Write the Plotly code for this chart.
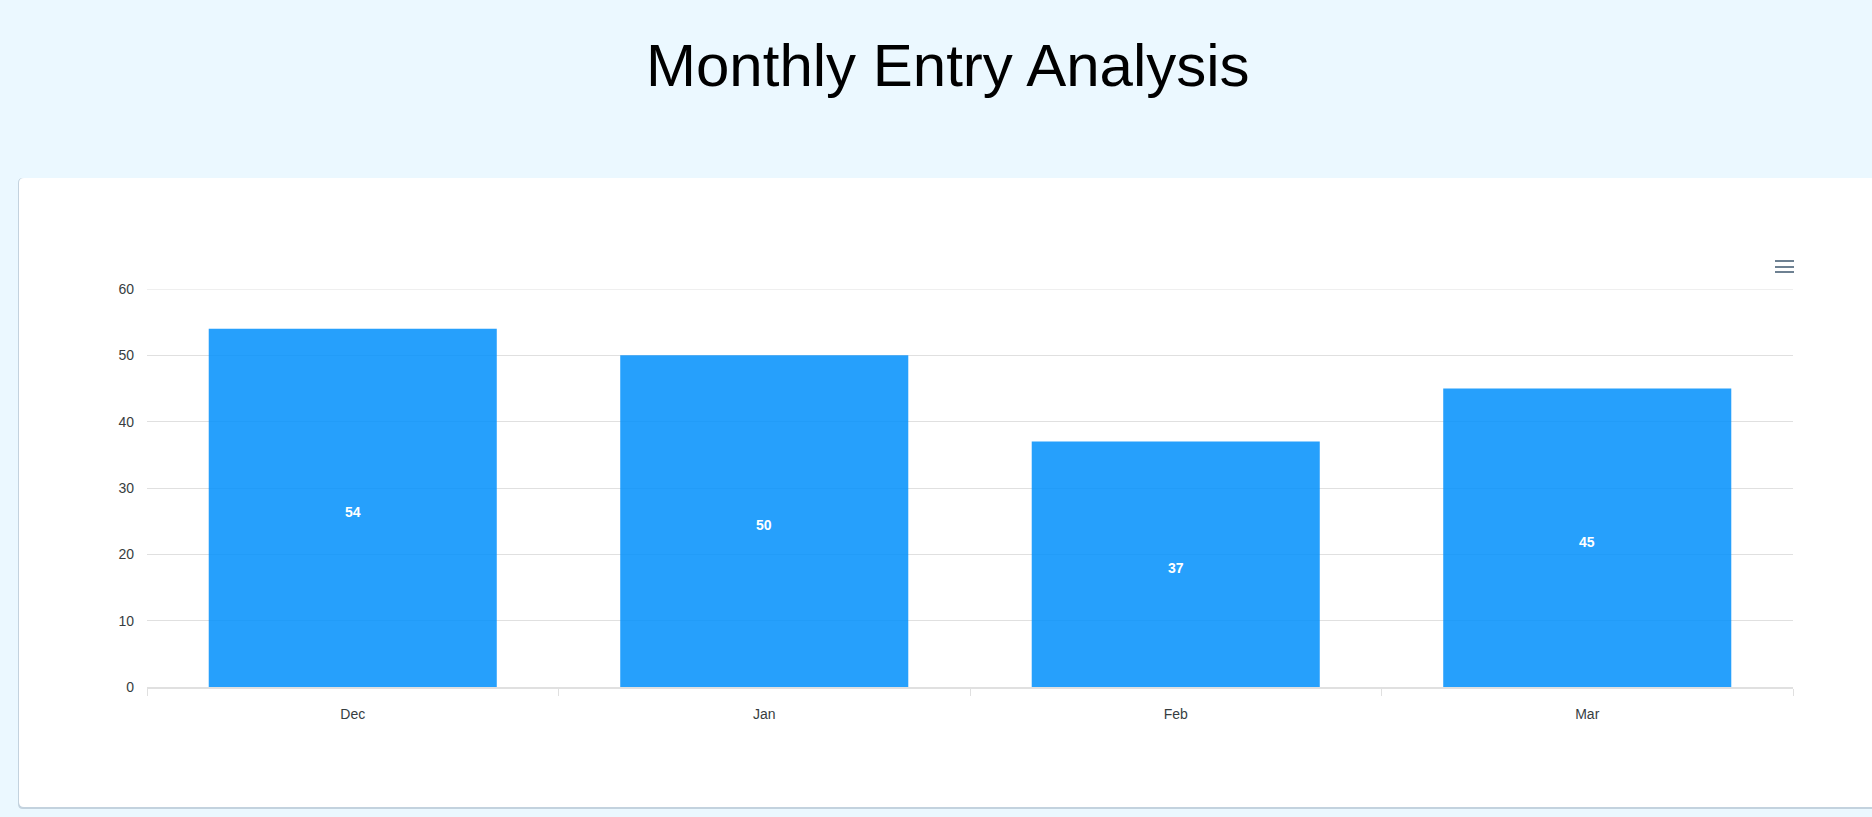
import plotly.graph_objects as go

categories = ["Dec", "Jan", "Feb", "Mar"]
entries = [54, 50, 37, 45]
y_ticks = [0, 10, 20, 30, 40, 50, 60]
title_text = "Monthly Entry Analysis"

W, H = 1872, 817
L, R, T, B = 147, 79, 289, 130
PW, PH = W - L - R, H - T - B
FONT = "Liberation Sans, Arial, Helvetica"


def px(x):
    return (x - L) / PW


def py(y):
    return (H - B - y) / PH


def rounded_rect(x0, y0, x1, y1, r):
    pts = [
        f"M {px(x0 + r)},{py(y0)}",
        f"L {px(x1 - r)},{py(y0)}",
        f"Q {px(x1)},{py(y0)} {px(x1)},{py(y0 + r)}",
        f"L {px(x1)},{py(y1 - r)}",
        f"Q {px(x1)},{py(y1)} {px(x1 - r)},{py(y1)}",
        f"L {px(x0 + r)},{py(y1)}",
        f"Q {px(x0)},{py(y1)} {px(x0)},{py(y1 - r)}",
        f"L {px(x0)},{py(y0 + r)}",
        f"Q {px(x0)},{py(y0)} {px(x0 + r)},{py(y0)}",
        "Z",
    ]
    return " ".join(pts)


fig = go.Figure(
    go.Bar(
        x=categories,
        y=entries,
        marker=dict(color="rgba(0,143,251,0.85)", line=dict(width=0)),
        hoverinfo="x+y",
    )
)

shapes = [
    dict(type="path", xref="paper", yref="paper", layer="below",
         path=rounded_rect(18, 178, 1885, 809, 5),
         fillcolor="rgba(120,140,160,0.35)", line=dict(width=0)),
    dict(type="path", xref="paper", yref="paper", layer="below",
         path=rounded_rect(19, 178, 1885, 807, 5),
         fillcolor="white", line=dict(width=0)),
    # top gridline (at the edge of the range plotly omits it)
    dict(type="line", xref="paper", yref="y", layer="below",
         x0=0, x1=1, y0=y_ticks[-1], y1=y_ticks[-1],
         line=dict(color="#e0e0e0", width=1)),
]
for yy in (261, 267, 272):
    shapes.append(dict(type="line", xref="paper", yref="paper",
                       x0=px(1775), x1=px(1794), y0=py(yy), y1=py(yy),
                       line=dict(color="#6E8192", width=2)))

annotations = [
    dict(text=title_text, xref="paper", yref="paper", x=px(948), y=py(66),
         xanchor="center", yanchor="middle", showarrow=False,
         font=dict(family=FONT, size=60, color="black")),
]
for c, v in zip(categories, entries):
    annotations.append(dict(
        x=c, y=v / 2, xref="x", yref="y", text=str(v), showarrow=False,
        xanchor="center", yanchor="middle", yshift=-4,
        font=dict(family=FONT, size=14, color="white", weight="bold"),
    ))

fig.update_layout(
    width=W, height=H,
    margin=dict(l=L, r=R, t=T, b=B, pad=0),
    paper_bgcolor="#EBF8FF",
    plot_bgcolor="rgba(0,0,0,0)",
    bargap=0.3,
    showlegend=False,
    shapes=shapes,
    annotations=annotations,
    font=dict(family=FONT, size=14, color="#373d3f"),
    xaxis=dict(
        type="category",
        showgrid=False,
        showline=True, linecolor="#e0e0e0", linewidth=2,
        ticks="outside", tickson="boundaries", ticklen=7, tickcolor="#e0e0e0", tickwidth=1,
        ticklabelstandoff=13,
        tickfont=dict(family=FONT, size=14, color="#373d3f"),
        fixedrange=True,
    ),
    yaxis=dict(
        range=[0, 60],
        tickvals=y_ticks,
        showgrid=True, gridcolor="#e0e0e0", gridwidth=1,
        zeroline=False, showline=False,
        ticks="", ticklabelstandoff=12,
        tickfont=dict(family=FONT, size=14, color="#373d3f"),
        fixedrange=True,
    ),
)

fig.write_html(
    "out.html",
    config={"displayModeBar": False},
    post_script="document.body.style.margin='0px';document.body.style.overflow='hidden';",
)
